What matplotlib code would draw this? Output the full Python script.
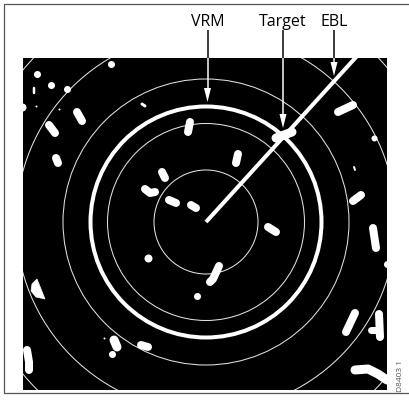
import numpy as np
import matplotlib
matplotlib.use("Agg")
import matplotlib.pyplot as plt
from matplotlib.patches import Circle, Rectangle, Polygon

# image is laid out in pixel units (409 x 404), y pointing down
W, H = 409, 404
center = (206, 222)

# range rings (px) and the variable range marker
ring_radii = [52, 98.5, 143, 190, 238]
vrm_radius = 115.5
ebl_bearing = 42.3  # degrees clockwise from north

# radar screen extent
screen = (23, 58, 387, 390)  # x0, y0, x1, y1

# callout labels
labels = ["VRM", "Target", "EBL"]
label_x = [207.5, 283, 334]
arrow_tip_y = [102, 128, 76]

# radar echoes: round dots (x, y, diameter px)
dots = [(37, 74, 7), (51, 85, 7), (67, 89, 7), (111, 64, 7), (36, 106, 2),
        (59, 109, 2), (22, 107, 8), (148, 258, 8), (197, 296, 7),
        (374, 138, 6), (387, 264, 7), (104, 338, 2), (112, 354, 7)]

# radar echoes: smeared returns as polylines (points, width px)
streaks = [
    ([(34, 88), (34, 93)], 2.5),
    ([(77, 112), (82, 121)], 8),
    ([(49, 125), (55, 133)], 8),
    ([(56, 158), (58, 163)], 8),
    ([(190, 122), (188, 132)], 8),
    ([(238, 154), (236, 163)], 8),
    ([(162, 172), (165, 178)], 8),
    ([(145, 189), (150, 193), (155, 192)], 8),
    ([(169, 200), (176, 203)], 8),
    ([(191, 205), (196, 208)], 8),
    ([(268, 227), (276, 232)], 8),
    ([(219, 266), (213, 279), (210, 282)], 8),
    ([(338, 112), (353, 105)], 8),
    ([(276, 138), (292, 132)], 9),   # the target on the EBL / VRM
    ([(353, 201), (361, 195)], 8),
    ([(373, 228), (376, 248)], 8),
    ([(27, 350), (29, 362), (29, 370)], 8),
    ([(114, 340), (117, 347)], 9),
    ([(141, 345), (148, 347)], 8),
    ([(355, 313), (346, 332)], 8),
    ([(379, 314), (380, 337)], 8),
    ([(371, 330), (379, 330)], 7),
    ([(355, 370), (368, 369), (378, 374), (387, 380)], 9),
    ([(354, 167), (355, 170)], 2),
    ([(142, 104), (145, 106)], 3),
]

# land echo (half disc) at left
land = [(37, 279), (32, 284), (31, 291), (36, 297), (45, 299)]

PX = 72 / 100  # px -> points at dpi 100

fig = plt.figure(figsize=(W / 100, H / 100), dpi=100)
ax = fig.add_axes([0, 0, 1, 1])
ax.set_xlim(0, W)
ax.set_ylim(H, 0)
ax.axis("off")

# outer frame (open on the right)
ax.plot([W, 3.5, 3.5, W], [3.5, 3.5, 392.5, 392.5], color="#555555", lw=0.9)

x0, y0, x1, y1 = screen
scr = Rectangle((x0, y0), x1 - x0, y1 - y0, facecolor="black", edgecolor="none", zorder=1)
ax.add_patch(scr)

def clip(artists):
    for a in artists:
        a.set_clip_path(scr)

for r in ring_radii:
    c = Circle(center, r, fill=False, edgecolor="#e0e0e0", lw=0.75, zorder=2)
    ax.add_patch(c)
    clip([c])

vrm = Circle(center, vrm_radius, fill=False, edgecolor="white", lw=4 * PX, zorder=3)
ax.add_patch(vrm)
clip([vrm])

# electronic bearing line
th = np.radians(ebl_bearing)
L = 400
ebl = ax.plot([center[0], center[0] + L * np.sin(th)],
              [center[1], center[1] - L * np.cos(th)],
              color="white", lw=4 * PX, solid_capstyle="butt", zorder=3)
clip(ebl)

for pts, w in streaks:
    xs, ys = zip(*pts)
    ln = ax.plot(xs, ys, color="white", lw=w * PX, solid_capstyle="round",
                 solid_joinstyle="round", zorder=4)
    clip(ln)

for x, y, d in dots:
    mk = ax.plot(x, y, "o", color="white", markersize=d * PX, markeredgewidth=0, zorder=4)
    clip(mk)

lp = Polygon(land, closed=True, facecolor="white", edgecolor="white", lw=0.5, zorder=4)
ax.add_patch(lp)
clip([lp])

# callouts
font = ["Open Sans", "DejaVu Sans"]
for name, x, tip in zip(labels, label_x, arrow_tip_y):
    ax.text(x, 25.5, name, ha="center", va="baseline", fontsize=11.5,
            family=font, color="black")
    ax.plot([x, x], [30, y0], color="black", lw=1.5 * PX, solid_capstyle="butt", zorder=5)
    ax.plot([x, x], [y0, tip - 10], color="white", lw=1.5 * PX, solid_capstyle="butt", zorder=5)
    head = Polygon([(x - 3.5, tip - 14), (x + 3.5, tip - 14), (x, tip)], closed=True,
                   facecolor="white", edgecolor="none", zorder=5)
    ax.add_patch(head)

ax.text(401, 392, "D8403 1", rotation=90, ha="center", va="bottom",
        fontsize=6, color="#555555", family=font)

fig.savefig("out.png", dpi=100, facecolor="white")
